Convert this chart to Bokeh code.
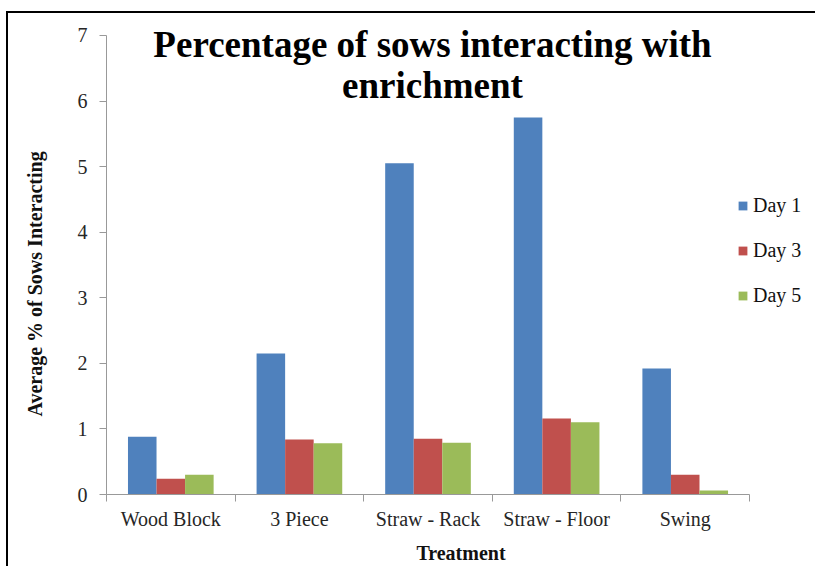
from bokeh.plotting import figure
from bokeh.models import Range1d, FixedTicker, Legend, LegendItem, Label, Title
from bokeh.embed import file_html
from bokeh.resources import INLINE
import numpy as np

categories = ["Wood Block", "3 Piece", "Straw - Rack", "Straw - Floor", "Swing"]
day1 = [0.88, 2.15, 5.05, 5.75, 1.92]
day3 = [0.24, 0.84, 0.85, 1.16, 0.30]
day5 = [0.30, 0.78, 0.79, 1.10, 0.06]
series_names = ["Day 1", "Day 3", "Day 5"]
colors = ["#4F81BD", "#C0504D", "#9BBB59"]
y_ticks = [0, 1, 2, 3, 4, 5, 6, 7]
y_max = 7

FONT = "Liberation Serif"
n = len(categories)

p = figure(width=819, height=566, output_backend="svg", toolbar_location=None,
           x_range=Range1d(0, n + 0.513), y_range=Range1d(0, y_max + 0.32),
           min_border_left=110, min_border_right=0, min_border_top=14, min_border_bottom=71)
# page frame lines (top and left) drawn behind a transparent canvas border
p.styles = {"margin-left": "-4px",
            "background-image": "linear-gradient(#000,#000), linear-gradient(#000,#000)",
            "background-size": "2px 100%, 100% 2px",
            "background-position": "10px 11px, 10px 11px",
            "background-repeat": "no-repeat"}
p.border_fill_alpha = 0
p.outline_line_color = None
p.xgrid.grid_line_color = None
p.ygrid.grid_line_color = None
p.background_fill_color = "white"

centers = np.arange(n) + 0.5
bw = 0.222
offsets = [-bw, 0.0, bw]
renderers = []
for vals, off, col in zip([day1, day3, day5], offsets, colors):
    r = p.vbar(x=centers + off, top=vals, width=bw, bottom=0,
               fill_color=col, line_color=None)
    renderers.append(r)

# x axis: labels at centers, boundary ticks as minor ticks
p.xaxis.bounds = (0, n)
p.xaxis.ticker = FixedTicker(ticks=list(centers), minor_ticks=list(range(n + 1)))
p.xaxis.major_label_overrides = {float(c): lab for c, lab in zip(centers, categories)}
p.xaxis.major_tick_out = 0
p.xaxis.major_tick_in = 0
p.xaxis.minor_tick_out = 7
p.xaxis.minor_tick_in = 0
p.xaxis.minor_tick_line_color = "#999999"
p.xaxis.axis_line_color = "#999999"
p.xaxis.major_label_text_font = FONT
p.xaxis.major_label_text_font_size = "20px"
p.xaxis.major_label_text_color = "#262626"
p.xaxis.major_label_standoff = 6
p.xaxis.axis_label = "Treatment"
p.xaxis.axis_label_text_font = FONT
p.xaxis.axis_label_text_font_style = "bold"
p.xaxis.axis_label_text_font_size = "20px"
p.xaxis.axis_label_text_color = "#111111"
p.xaxis.axis_label_standoff = 9

p.yaxis.bounds = (0, y_max)
p.yaxis.ticker = FixedTicker(ticks=y_ticks)
p.yaxis.major_tick_out = 7
p.yaxis.major_tick_in = 0
p.yaxis.minor_tick_line_color = None
p.yaxis.major_tick_line_color = "#999999"
p.yaxis.axis_line_color = "#999999"
p.yaxis.major_label_text_font = FONT
p.yaxis.major_label_text_font_size = "20px"
p.yaxis.major_label_text_color = "#262626"
p.yaxis.major_label_standoff = 12

ytitle = Title(text="Average % of Sows Interacting", align="left", offset=78,
               vertical_align="top", standoff=54, text_font=FONT, text_font_style="bold",
               text_font_size="20px", text_color="#111111")
p.add_layout(ytitle, "left")

legend = Legend(items=[LegendItem(label=s, renderers=[r]) for s, r in zip(series_names, renderers)],
                location=(631, 187), orientation="vertical")
legend.label_text_font = FONT
legend.label_text_font_size = "20px"
legend.label_text_color = "#111111"
legend.glyph_width = 11
legend.glyph_height = 11
legend.label_height = 20
legend.spacing = 22
legend.padding = 0
legend.margin = 0
legend.label_standoff = 5
legend.border_line_color = None
legend.background_fill_alpha = 0
p.add_layout(legend, "center")

title_lines = ["Percentage of sows interacting with", "enrichment"]
for txt, yy in zip(title_lines, [6.87, 6.23]):
    p.add_layout(Label(x=2.535, y=yy, text=txt, text_font=FONT, text_font_style="bold",
                       text_font_size="37px", text_align="center", text_baseline="middle",
                       text_color="black"))

open("out.html", "w").write(file_html(p, INLINE))
